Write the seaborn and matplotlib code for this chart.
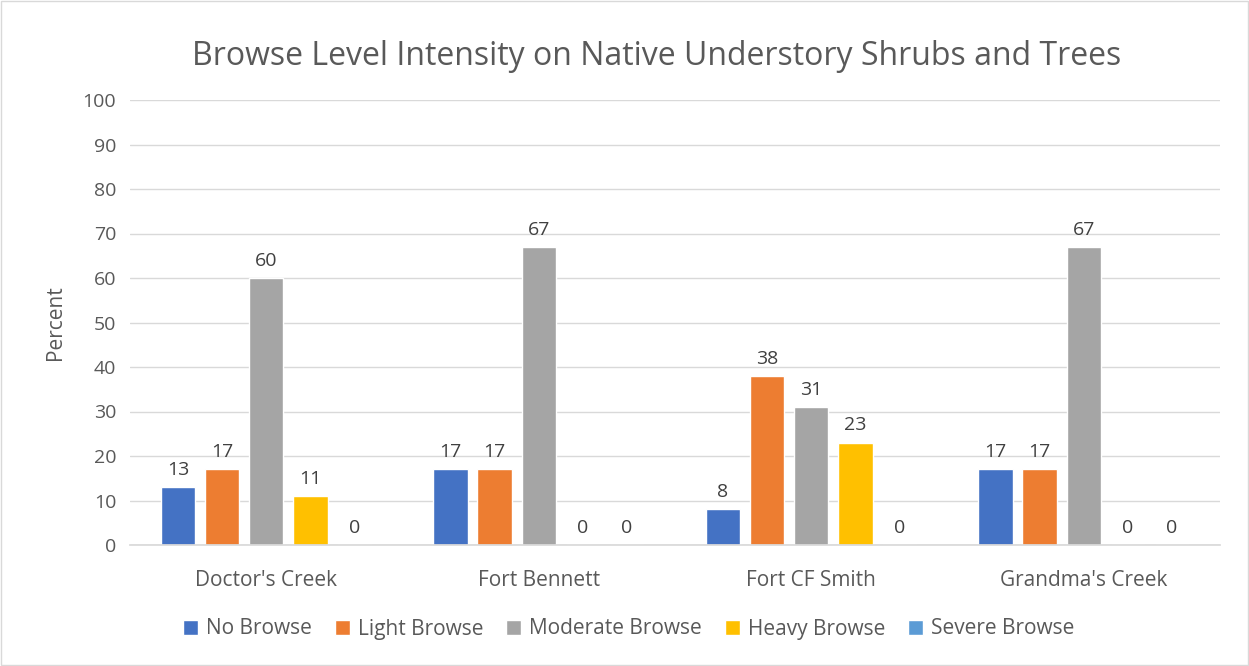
import pandas as pd
import seaborn as sns
import matplotlib.pyplot as plt

sites = ["Doctor's Creek", "Fort Bennett", "Fort CF Smith", "Grandma's Creek"]
levels = ["No Browse", "Light Browse", "Moderate Browse", "Heavy Browse", "Severe Browse"]
no_browse = [13, 17, 8, 17]
light_browse = [17, 17, 38, 17]
moderate_browse = [60, 67, 31, 67]
heavy_browse = [11, 0, 23, 0]
severe_browse = [0, 0, 0, 0]

colors = ["#4472C4", "#ED7D31", "#A5A5A5", "#FFC000", "#5B9BD5"]
text_col = "#595959"

df = pd.DataFrame({
    "site": sites * 5,
    "level": [lv for lv in levels for _ in sites],
    "value": no_browse + light_browse + moderate_browse + heavy_browse + severe_browse,
})

sns.set_theme(style="white")
plt.rcParams['font.family'] = ['Open Sans', 'DejaVu Sans']

fig = plt.figure(figsize=(12.49, 6.66), dpi=100)
ax = fig.add_axes([130 / 1249, 1 - 545 / 666, 1090 / 1249, 445 / 666])

sns.barplot(data=df, x="site", y="value", hue="level", hue_order=levels,
            palette=colors, saturation=1, width=0.81, gap=0.22, ax=ax, legend=True)

for c in ax.containers:
    ax.bar_label(c, fmt="%g", padding=6, fontsize=14, color="#404040")

ax.set_ylim(0, 100)
ax.set_yticks(range(0, 101, 10))
ax.yaxis.grid(True, color="#D9D9D9", linewidth=1)
ax.set_axisbelow(True)
for s in ["top", "right", "left"]:
    ax.spines[s].set_visible(False)
ax.spines["bottom"].set_color("#D9D9D9")
ax.tick_params(axis="y", length=0, labelsize=14, colors=text_col, pad=10)
ax.tick_params(axis="x", length=0, labelsize=15, colors=text_col, pad=18)
ax.set_xlabel("")
ax.set_ylabel("Percent", fontsize=15, color=text_col, labelpad=12)

fig.suptitle("Browse Level Intensity on Native Understory Shrubs and Trees",
             fontsize=23, color=text_col, x=657 / 1249, y=0.94)

handles, labels = ax.get_legend_handles_labels()
ax.get_legend().remove()
fig.legend(handles, labels, loc="center", bbox_to_anchor=(629 / 1249, 1 - 629 / 666), ncol=5,
           frameon=False, fontsize=15, labelcolor=text_col, handlelength=0.7,
           handleheight=0.7, handletextpad=0.4, columnspacing=1.1)

border = plt.Rectangle((0.001, 0.001), 0.998, 0.997, transform=fig.transFigure,
                       fill=False, edgecolor="#D9D9D9", linewidth=1)
fig.patches.append(border)

fig.savefig("out.png", dpi=100)
